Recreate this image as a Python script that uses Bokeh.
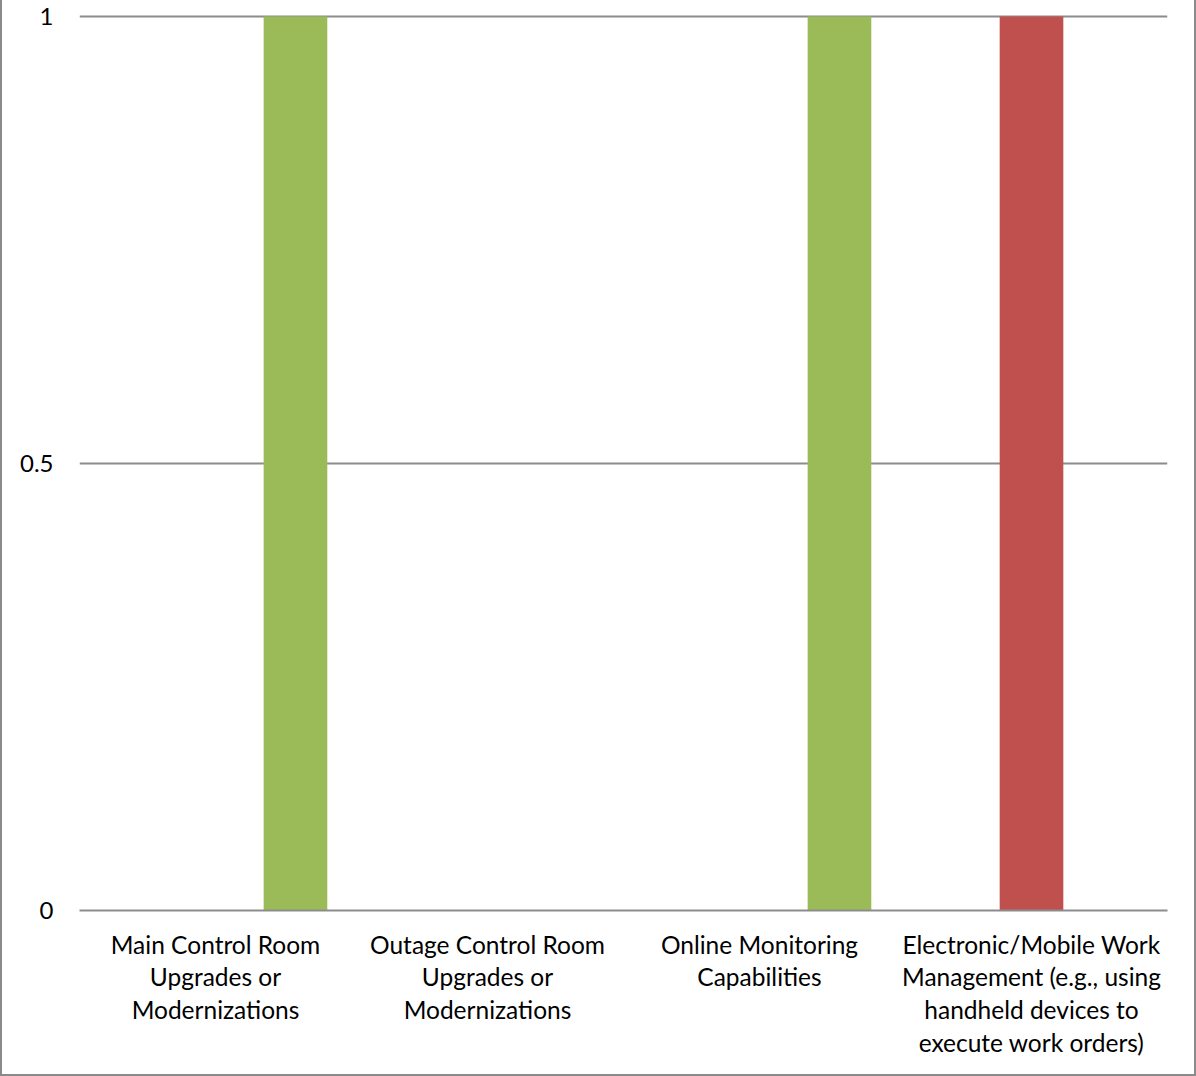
from bokeh.plotting import figure
from bokeh.models import FactorRange, Range1d, FixedTicker, ColumnDataSource
from bokeh.transform import dodge
from bokeh.embed import file_html
from bokeh.resources import INLINE

categories = [
    "Main Control Room\nUpgrades or\nModernizations",
    "Outage Control Room\nUpgrades or\nModernizations",
    "Online Monitoring\nCapabilities",
    "Electronic/Mobile Work\nManagement (e.g., using\nhandheld devices to\nexecute work orders)",
]
series_names = ["Series 1", "Series 2", "Series 3"]
series1_values = [0, 0, 0, 0]
series2_values = [0, 0, 0, 1]
series3_values = [1, 0, 1, 0]
y_ticks = [0, 0.5, 1]
y_tick_labels = {0: "0", 0.5: "0.5", 1: "1"}

colors = ["#4F81BD", "#C0504D", "#9BBB59"]
offsets = [-0.294, 0.0, 0.294]
bar_width = 0.234

src = ColumnDataSource(dict(cat=categories, s1=series1_values,
                            s2=series2_values, s3=series3_values))

p = figure(x_range=FactorRange(*categories), y_range=Range1d(0, 898 / 894),
           width=1196, height=1076, output_backend="svg", toolbar_location=None,
           min_border_left=79, min_border_right=29, min_border_top=12,
           min_border_bottom=166)

for key, name, col, off in zip(["s1", "s2", "s3"], series_names, colors, offsets):
    p.vbar(x=dodge("cat", off, range=p.x_range), top=key, bottom=0, width=bar_width,
           source=src, fill_color=col, line_color=None)

p.x_range.range_padding = 0
p.outline_line_color = None
p.border_fill_color = None
p.background_fill_color = None

p.xgrid.grid_line_color = None
p.ygrid.grid_line_color = "#8c8c8c"
p.ygrid.grid_line_width = 2
p.ygrid.level = "underlay"

p.yaxis.ticker = FixedTicker(ticks=y_ticks)
p.yaxis.major_label_overrides = y_tick_labels
p.yaxis.axis_line_color = None
p.yaxis.major_tick_line_color = None
p.yaxis.minor_tick_line_color = None
p.yaxis.major_label_standoff = 20
p.yaxis.major_label_text_font = "Lato"
p.yaxis.major_label_text_font_size = "24px"
p.yaxis.major_label_text_color = "#000000"

p.xaxis.axis_line_color = "#8c8c8c"
p.xaxis.axis_line_width = 2
p.xaxis.major_tick_line_color = None
p.xaxis.minor_tick_line_color = None
p.xaxis.major_label_standoff = 13
p.xaxis.major_label_text_font = "Lato"
p.xaxis.major_label_text_font_size = "24.5px"
p.xaxis.major_label_text_color = "#000000"
p.xaxis.major_label_text_line_height = 1.135
p.xaxis.major_label_orientation = "horizontal"

p.styles = {"box-shadow": "inset 2px 0 0 #8a8a8a, inset -2px 0 0 #8a8a8a, inset 0 -2px 0 #8a8a8a"}

open("out.html", "w").write(file_html(p, INLINE))
